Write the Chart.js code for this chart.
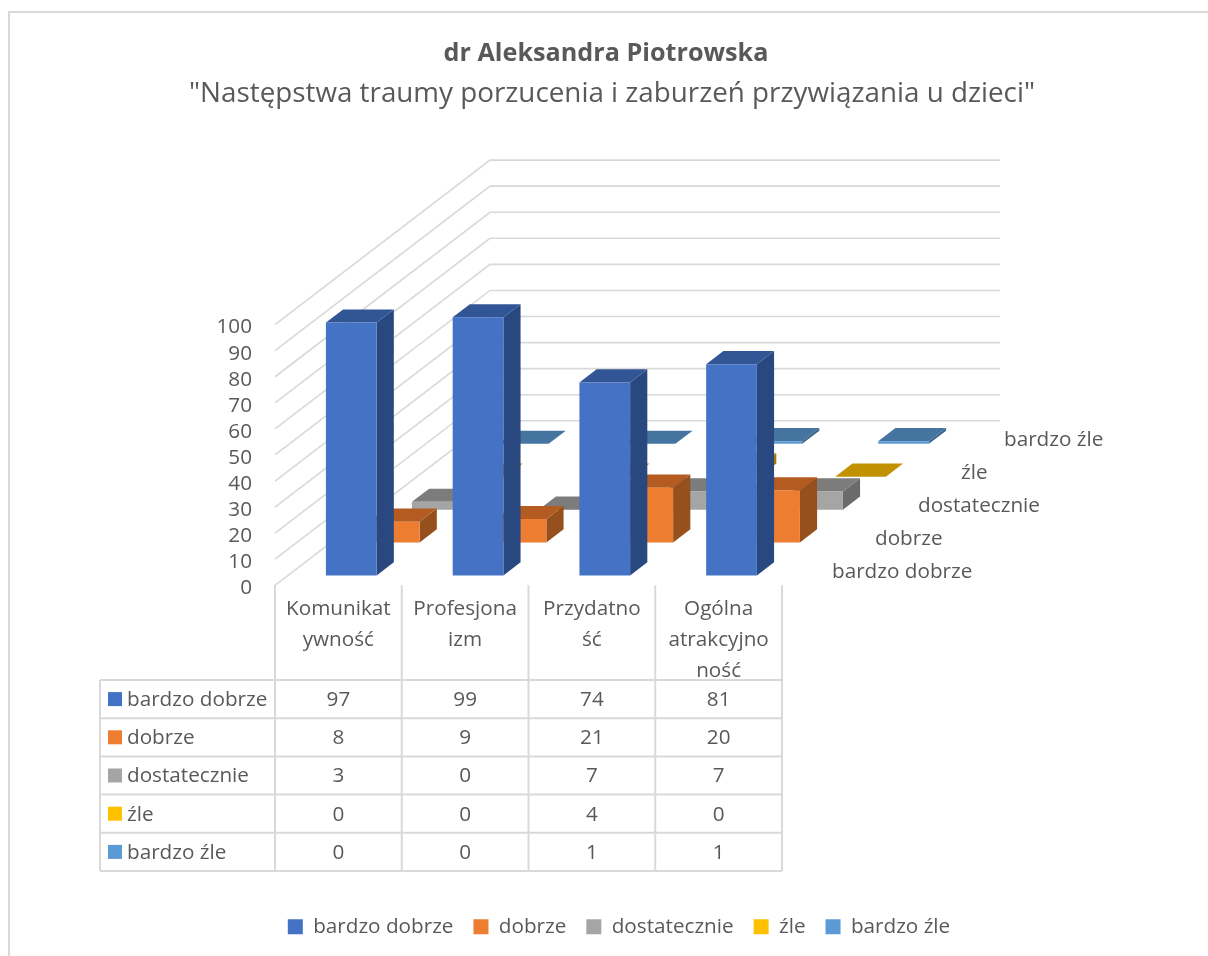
<!DOCTYPE html>
<html>
<head>
<meta charset="utf-8">
<title>dr Aleksandra Piotrowska</title>
<script src="https://cdn.jsdelivr.net/npm/chart.js@4"></script>
<style>
  html, body { margin: 0; padding: 0; background: #fff; overflow: hidden; }
  canvas { display: block; }
</style>
</head>
<body>
<canvas id="chart" width="1208" height="956"></canvas>
<script>
const titleText = "dr Aleksandra Piotrowska"
const subtitleText = '"Następstwa traumy porzucenia i zaburzeń przywiązania u dzieci"'

const categories = [["Komunikat", "ywność"], ["Profesjona", "izm"], ["Przydatno", "ść"], ["Ogólna", "atrakcyjno", "ność"]]
const seriesNames = ["bardzo dobrze", "dobrze", "dostatecznie", "źle", "bardzo źle"]

const bardzoDobrze = [97, 99, 74, 81]
const dobrze = [8, 9, 21, 20]
const dostatecznie = [3, 0, 7, 7]
const zle = [0, 0, 4, 0]
const bardzoZle = [0, 0, 1, 1]
const seriesValues = [bardzoDobrze, dobrze, dostatecznie, zle, bardzoZle]

const frontColors = ["#4472C4", "#ED7D31", "#A5A5A5", "#FFC000", "#5B9BD5"]
const topColors = ["#325596", "#B35B21", "#7C7C7C", "#C19100", "#44749F"]
const sideColors = ["#2A4880", "#95501D", "#6B6B6B", "#A67C00", "#3A6288"]

const fontName = "'Open Sans'"
const fontSize = 20.7
const textColor = "#595959"
const lineColor = "#D9D9D9"

// the floor runs this far up and to the right, split into one slot per series
const depthX = 215
const depthY = 164.5
const slotX = depthX / seriesNames.length
const slotY = depthY / seriesNames.length
const barDepth = 0.4

// table under the chart
const rowTop = 680
const rowHeight = 38.2
const tableLeft = 100

const box3d = {
    id: "box3d",
    // excel style: every series sits further back on the floor
    afterDatasetsUpdate(chart) {
        chart.data.datasets.forEach((ds, i) => {
            const dx = slotX * (i + (1 - barDepth) / 2)
            const dy = slotY * (i + (1 - barDepth) / 2)
            chart.getDatasetMeta(i).data.forEach(bar => {
                bar.x += dx
                bar.y -= dy
                bar.base -= dy
            })
        })
    },
    afterLayout(chart) {
        chart.boxes.forEach(b => {
            if (b.options && b.options.text === titleText) { b.left = 0; b.right = 1212 }
            if (b.options && b.options.text === subtitleText) { b.left = 0; b.right = 1224 }
        })
        chart.legend.left = 0
        chart.legend.right = 1238
    },
    beforeDraw(chart) {
        const ctx = chart.ctx
        ctx.save()
        ctx.fillStyle = "#fff"
        ctx.fillRect(0, 0, chart.width, chart.height)
        ctx.strokeStyle = lineColor
        ctx.lineWidth = 2
        ctx.beginPath()
        ctx.moveTo(1208, 12)
        ctx.lineTo(9, 12)
        ctx.lineTo(9, 956)
        ctx.stroke()
        ctx.restore()
    },
    beforeDatasetsDraw(chart) {
        const ctx = chart.ctx
        const x = chart.scales.x
        const y = chart.scales.y
        ctx.save()
        ctx.strokeStyle = lineColor
        ctx.lineWidth = 1.6
        y.ticks.forEach(t => {
            const py = y.getPixelForValue(t.value)
            ctx.beginPath()
            ctx.moveTo(x.left, py)
            ctx.lineTo(x.left + depthX, py - depthY)
            ctx.lineTo(x.right + depthX + 3, py - depthY)
            ctx.stroke()
        })
        ctx.restore()
    },
    beforeDatasetDraw(chart, args) {
        const ctx = chart.ctx
        const i = args.index
        const dx = slotX * barDepth
        const dy = slotY * barDepth
        ctx.save()
        args.meta.data.forEach(bar => {
            const l = bar.x - bar.width / 2
            const r = bar.x + bar.width / 2
            ctx.fillStyle = sideColors[i]
            ctx.beginPath()
            ctx.moveTo(r, bar.y)
            ctx.lineTo(r + dx, bar.y - dy)
            ctx.lineTo(r + dx, bar.base - dy)
            ctx.lineTo(r, bar.base)
            ctx.closePath()
            ctx.fill()
            ctx.fillStyle = topColors[i]
            ctx.beginPath()
            ctx.moveTo(l, bar.y)
            ctx.lineTo(l + dx, bar.y - dy)
            ctx.lineTo(r + dx, bar.y - dy)
            ctx.lineTo(r, bar.y)
            ctx.closePath()
            ctx.fill()
        })
        ctx.restore()
    },
    afterDraw(chart) {
        const ctx = chart.ctx
        const x = chart.scales.x
        const y = chart.scales.y
        const colW = x.width / categories.length
        const rowBottom = rowTop + rowHeight * seriesNames.length
        ctx.save()

        // series names along the floor
        ctx.font = fontSize + "px " + fontName
        ctx.fillStyle = textColor
        ctx.textAlign = "left"
        ctx.textBaseline = "middle"
        seriesNames.forEach((name, i) => {
            ctx.fillText(name, x.right + 7 + slotX * (i + 1), y.bottom + 3 - slotY * (i + 0.5))
        })

        // data table
        ctx.strokeStyle = lineColor
        ctx.lineWidth = 2
        ctx.beginPath()
        for (let c = 0; c <= categories.length; c++) {
            ctx.moveTo(x.left + c * colW, y.bottom)
            ctx.lineTo(x.left + c * colW, rowBottom)
        }
        ctx.moveTo(tableLeft, rowTop)
        ctx.lineTo(tableLeft, rowBottom)
        for (let r = 0; r <= seriesNames.length; r++) {
            ctx.moveTo(tableLeft, rowTop + r * rowHeight)
            ctx.lineTo(x.right, rowTop + r * rowHeight)
        }
        ctx.stroke()

        seriesNames.forEach((name, r) => {
            const cy = rowTop + (r + 0.5) * rowHeight
            ctx.fillStyle = frontColors[r]
            ctx.fillRect(tableLeft + 8, cy - 7, 14, 14)
            ctx.fillStyle = textColor
            ctx.textAlign = "left"
            ctx.fillText(name, tableLeft + 27, cy + 1)
            ctx.textAlign = "center"
            seriesValues[r].forEach((v, c) => {
                ctx.fillText(String(v), x.getPixelForValue(c), cy + 1)
            })
        })
        ctx.restore()
    }
}

new Chart("chart", {
    type: "bar",
    plugins: [box3d],
    data: {
        labels: categories,
        datasets: seriesNames.map((name, i) => ({
            label: name,
            data: seriesValues[i],
            backgroundColor: frontColors[i],
            borderWidth: 0,
            grouped: false,
            categoryPercentage: 0.4,
            barPercentage: 1,
            clip: false
        }))
    },
    options: {
        responsive: false,
        animation: false,
        events: [],
        layout: { padding: { left: 0, right: 426, top: 0, bottom: 9 } },
        plugins: {
            tooltip: { enabled: false },
            title: {
                display: true,
                text: titleText,
                color: textColor,
                font: { family: fontName, size: 25.2, weight: "bold" },
                padding: { top: 39, bottom: 8 }
            },
            subtitle: {
                display: true,
                text: subtitleText,
                color: textColor,
                font: { family: fontName, size: 27.8, weight: "normal" },
                padding: { top: 0, bottom: 214 }
            },
            legend: {
                position: "bottom",
                labels: {
                    boxWidth: 15,
                    boxHeight: 15,
                    padding: 20,
                    color: textColor,
                    font: { family: fontName, size: fontSize }
                }
            }
        },
        scales: {
            x: {
                grid: { display: false },
                border: { display: false },
                afterFit: s => { s.height = 311 },
                ticks: {
                    autoSkip: false,
                    minRotation: 0,
                    maxRotation: 0,
                    padding: 0,
                    color: textColor,
                    font: { family: fontName, size: fontSize, lineHeight: 1.5 }
                }
            },
            y: {
                min: 0,
                max: 100,
                grid: { display: false },
                border: { display: false },
                afterFit: s => { s.width = 275 },
                ticks: {
                    autoSkip: false,
                    stepSize: 10,
                    padding: 15,
                    labelOffset: 3,
                    color: textColor,
                    font: { family: fontName, size: fontSize }
                }
            }
        }
    }
})
</script>
</body>
</html>
